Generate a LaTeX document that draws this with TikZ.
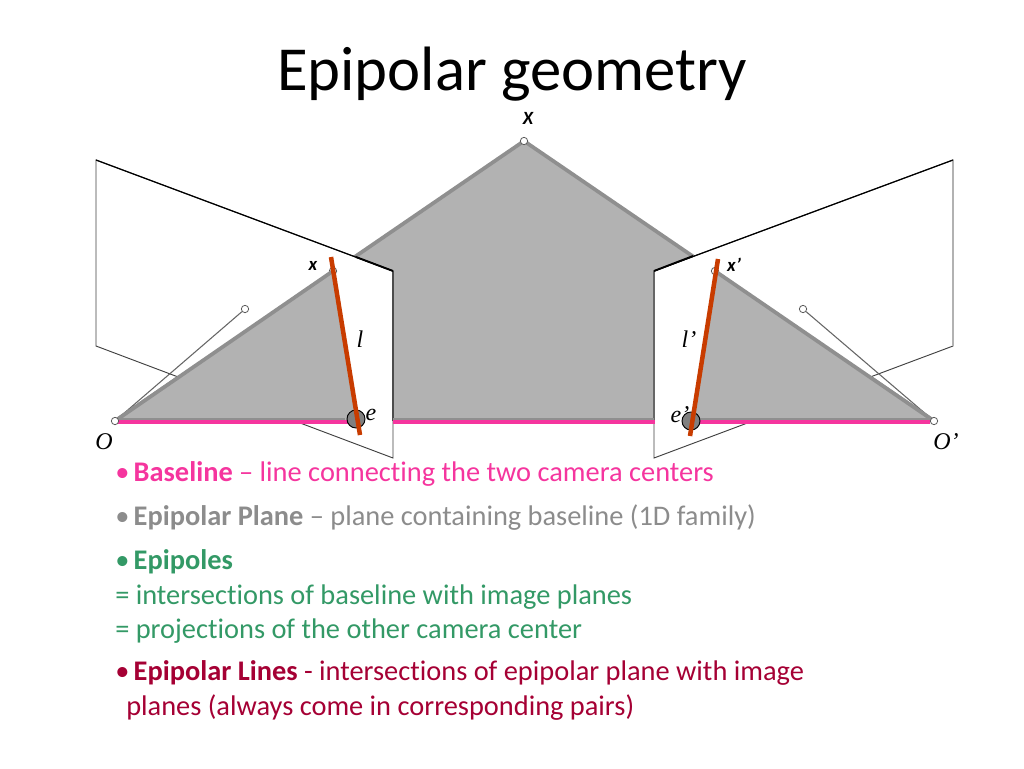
\documentclass[tikz,border=0pt]{standalone}
\usepackage{fontspec}
\setmainfont[Ligatures={NoCommon}]{Carlito}
\newfontfamily\serifit[ItalicFont=Liberation Serif Italic]{Liberation Serif}
\definecolor{planegray}{HTML}{B2B2B2}
\definecolor{edgegray}{HTML}{8F8F8F}
\definecolor{basepink}{HTML}{F5359E}
\definecolor{linered}{HTML}{C83C00}
\definecolor{polegreen}{HTML}{339966}
\definecolor{wine}{HTML}{A50034}
\definecolor{planetxt}{HTML}{8C8C8C}
\newcommand{\bul}{•\hspace{-1.6pt} }
\tikzset{
  pt/.style={circle, draw=black!65, fill=white, line width=0.6pt, inner sep=0pt, minimum size=5.5pt},
  epi/.style={circle, draw=black, fill=black!50, line width=0.7pt, inner sep=0pt, minimum size=13.5pt},
  plane/.style={draw=black!75, fill=white, line width=0.7pt},
  wedge/.style={fill=planegray},
  rim/.style={draw=edgegray, line width=2.8pt},
  baseline/.style={draw=basepink, line width=3pt},
  epiline/.style={draw=linered, line width=3.4pt},
  ray/.style={draw=black!60, line width=0.8pt},
  ptlabel/.style={font=\fontsize{14}{16}\selectfont\bfseries\itshape},
  serlabel/.style={font=\fontsize{18}{20}\serifit\itshape},
  txt/.style={anchor=base west, inner sep=0pt, font=\fontsize{21.3}{25}\selectfont}
}
\begin{document}
\begin{tikzpicture}[x=0.75pt, y=-0.75pt]
  \useasboundingbox (0,0) rectangle (1024,768);

  % Geometry
  \coordinate (apex) at (524,141); %
  \coordinate (left) at (115,421); %
  \coordinate (right) at (934,421); %
  \coordinate (xl) at (333,271); %
  \coordinate (xr) at (715,271); %
  \coordinate (el) at (356,421); %
  \coordinate (er) at (691,421); %

  % Epipolar plane
  \fill[wedge] (apex) -- (left) -- (right) -- cycle; %
  \draw[rim] (left) -- (apex) -- (right); %

  % Image planes
  \draw[plane] (96,160) coordinate (la) -- (393,271) coordinate (lb) %
    -- (393,458) coordinate (lc) -- (96,346) coordinate (ld) -- cycle; %
  \draw[plane] (654,271) coordinate (ra) -- (953,160) coordinate (rb) %
    -- (953,346) coordinate (rc) -- (654,458) coordinate (rd) -- cycle; %
  \draw[draw=black!70, line width=1.7pt] (lb) -- (393,421); %
  \draw[draw=black!60, line width=1.9pt] (ra) -- (654,421); %
  \draw[draw=planegray, line width=1pt] (rb) -- (rc); %
  \draw[draw=black, line width=0.9pt] (la) -- (lb); %
  \draw[draw=black, line width=0.9pt] (rb) -- (ra); %
  \draw[draw=black, line width=1.4pt] (356,257) -- (lb); %
  \draw[draw=black, line width=1.4pt] (ra) -- (693,256); %

  % Points and rays
  \node[pt] (pl) at (245,309) {}; %
  \node[pt] (pr) at (803,309) {}; %
  \node[pt] (xlpt) at (xl) {}; %
  \node[pt] (xrpt) at (xr) {}; %
  \draw[ray] (left) -- (pl); %
  \draw[ray] (right) -- (pr); %

  % Wedges in the image planes
  \fill[wedge] (left) -- (xl) -- (el) -- cycle; %
  \fill[wedge] (right) -- (xr) -- (er) -- cycle; %
  \draw[rim] (left) -- (xl); %
  \draw[rim] (right) -- (xr); %
  \draw[draw=edgegray, line width=1.4pt] (118,419) -- (345,419); %
  \draw[draw=edgegray, line width=1.4pt] (393,419) -- (654,419); %
  \draw[draw=edgegray, line width=1.4pt] (700,419) -- (934,419); %

  % Baseline
  \draw[baseline] (118,422) -- (350,422); %
  \draw[baseline] (393,422) -- (655,422); %
  \draw[baseline] (695,422) -- (930,422); %
  \node[pt] (O) at (left) {}; %
  \node[pt] (Op) at (right) {}; %
  \node[pt] (Xpt) at (apex) {}; %

  % Epipoles and epipolar lines
  \node[epi] (e1) at (356,419) {}; %
  \node[epi] (e2) at (691,421) {}; %
  \coordinate (l1a) at (331,257); %
  \coordinate (l1b) at (360,435); %
  \coordinate (l2a) at (718,259); %
  \coordinate (l2b) at (690,436); %
  \draw[epiline] (l1a) -- (l1b); %
  \draw[epiline] (l2a) -- (l2b); %

  % Labels
  \node[ptlabel] (Xlab) at (528,118) {X}; %
  \node[ptlabel] (xlab) at (313,266) {x}; %
  \node[ptlabel] (xplab) at (734,265) {x’}; %
  \node[serlabel] (llab) at (360,339) {l}; %
  \node[serlabel] (lplab) at (689,339) {l’}; %
  \node[serlabel] (elab) at (371,415) {e}; %
  \node[serlabel] (eplab) at (680,415) {e’}; %
  \node[serlabel] (Olab) at (104,442) {O}; %
  \node[serlabel] (Oplab) at (946,442) {O’}; %

  % Text
  \node[anchor=base, inner sep=0pt, font=\fontsize{47}{54}\selectfont] (title) at (512,90) {Epipolar geometry}; %
  \node[txt, text=basepink] (t1) at (115,481) {\bul\textbf{Baseline} – line connecting the two camera centers}; %
  \node[txt, text=planetxt] (t2) at (115,525) {\bul\textbf{Epipolar Plane} – plane containing baseline (1D family)}; %
  \node[txt, text=polegreen] (t3) at (115,569) {\bul\textbf{Epipoles}}; %
  \node[txt, text=polegreen] (t4) at (115,604) {= intersections of baseline with image planes}; %
  \node[txt, text=polegreen] (t5) at (115,638) {= projections of the other camera center}; %
  \node[txt, text=wine] (t6) at (115,680) {\bul\textbf{Epipolar Lines} - intersections of epipolar plane with image}; %
  \node[txt, text=wine] (t7) at (126,715) {planes (always come in corresponding pairs)}; %

\end{tikzpicture}
\end{document}
